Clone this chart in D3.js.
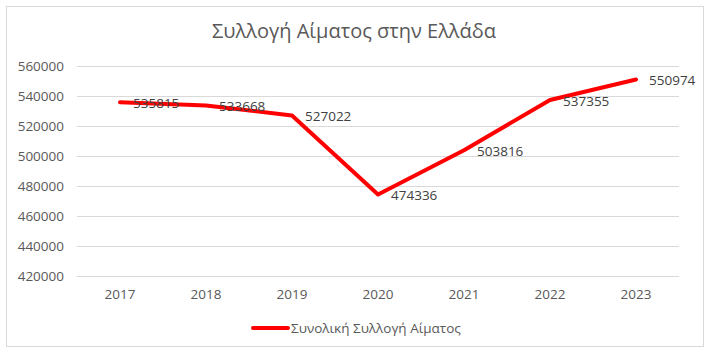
<!DOCTYPE html>
<html>
<head>
<meta charset="utf-8">
<script src="https://cdn.jsdelivr.net/npm/d3@7"></script>
<style>
  body { margin: 0; background: #fff; }
  text { font-family: "Open Sans", "Noto Sans", sans-serif; }
</style>
</head>
<body>
<div id="chart"></div>
<script>
const years = ['2017', '2018', '2019', '2020', '2021', '2022', '2023'];
const totals = [535815, 533668, 527022, 474336, 503816, 537355, 550974];
const yTicks = [420000, 440000, 460000, 480000, 500000, 520000, 540000, 560000];
const seriesName = 'Συνολική Συλλογή Αίματος';
const title = 'Συλλογή Αίματος στην Ελλάδα';

const svg = d3.select('#chart').append('svg').attr('width', 712).attr('height', 355);

svg.append('rect')
    .attr('x', 6.5).attr('y', 6.5)
    .attr('width', 697).attr('height', 340)
    .attr('fill', '#fff').attr('stroke', '#d9d9d9');

const margin = { top: 66, left: 77 };

const x = d3.scaleBand().domain(years).range([0, 602]);
const y = d3.scaleLinear().domain([420000, 560000]).range([210, 0]);

const g = svg.append('g').attr('transform', `translate(${margin.left},${margin.top})`);

svg.append('text')
    .attr('x', 354).attr('y', 38)
    .attr('text-anchor', 'middle')
    .attr('fill', '#595959')
    .style('font-size', '20px')
    .text(title);

// gridlines
g.selectAll('.grid')
    .data(yTicks)
    .enter().append('line')
    .attr('x1', 0).attr('x2', 602)
    .attr('y1', d => Math.round(y(d)) + 0.5)
    .attr('y2', d => Math.round(y(d)) + 0.5)
    .attr('stroke', '#d9d9d9');

// y axis labels
g.selectAll('.ytick')
    .data(yTicks)
    .enter().append('text')
    .attr('x', -13)
    .attr('y', d => y(d))
    .attr('dy', '.35em')
    .attr('text-anchor', 'end')
    .attr('fill', '#595959')
    .style('font-size', '13.5px')
    .text(d => d);

// x axis labels
g.selectAll('.xtick')
    .data(years)
    .enter().append('text')
    .attr('x', d => x(d) + x.bandwidth() / 2)
    .attr('y', 228)
    .attr('dy', '.35em')
    .attr('text-anchor', 'middle')
    .attr('fill', '#595959')
    .style('font-size', '13.5px')
    .text(d => d);

const line = d3.line()
    .x((d, i) => x(years[i]) + x.bandwidth() / 2)
    .y(d => y(d));

g.append('path')
    .datum(totals)
    .attr('fill', 'none')
    .attr('stroke', '#ff0000')
    .attr('stroke-width', 4)
    .attr('stroke-linejoin', 'round')
    .attr('stroke-linecap', 'round')
    .attr('d', line);

// data labels
g.selectAll('.label')
    .data(totals)
    .enter().append('text')
    .attr('x', (d, i) => x(years[i]) + x.bandwidth() / 2 + 13)
    .attr('y', d => y(d) + 1)
    .attr('dy', '.35em')
    .attr('fill', '#404040')
    .style('font-size', '13.5px')
    .text(d => d);

// legend
const legend = svg.append('g').attr('transform', 'translate(253,328)');
legend.append('line')
    .attr('x1', 0).attr('x2', 35)
    .attr('y1', 0).attr('y2', 0)
    .attr('stroke', '#ff0000')
    .attr('stroke-width', 4)
    .attr('stroke-linecap', 'round');
legend.append('text')
    .attr('x', 38).attr('y', 0)
    .attr('dy', '.35em')
    .attr('fill', '#595959')
    .style('font-size', '13.5px')
    .text(seriesName);
</script>
</body>
</html>
